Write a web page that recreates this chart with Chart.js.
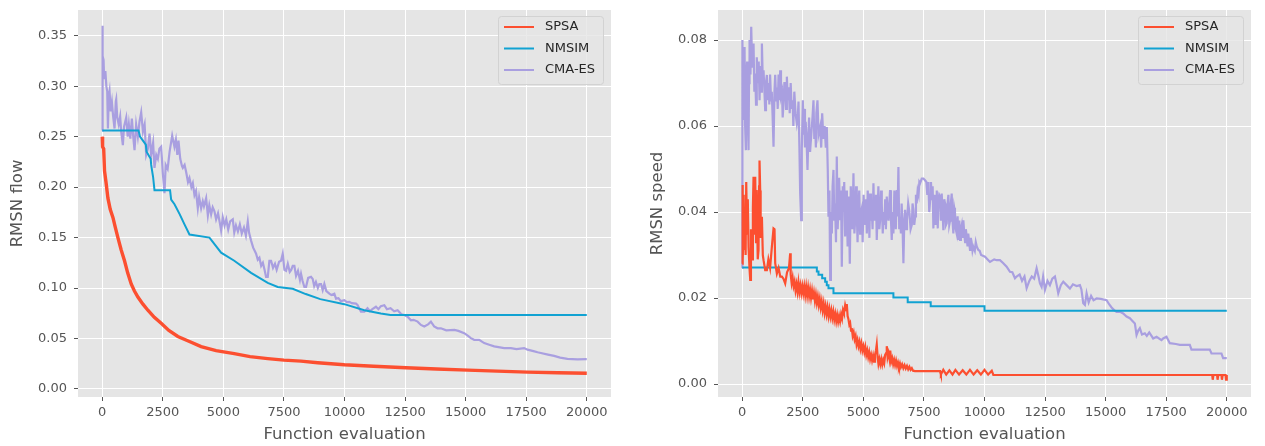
<!DOCTYPE html>
<html>
<head>
<meta charset="utf-8">
<script src="https://cdn.jsdelivr.net/npm/chart.js@4.4.1/dist/chart.umd.min.js"></script>
<style>
html, body { margin: 0; padding: 0; background: #fff; }
#wrap { position: relative; width: 1265px; height: 446px; }
canvas { position: absolute; top: 0; }
</style>
</head>
<body>
<div id="wrap">
  <canvas id="chartFlow" width="633" height="446" style="left:0;width:633px;height:446px"></canvas>
  <canvas id="chartSpeed" width="632" height="446" style="left:633px;width:632px;height:446px"></canvas>
</div>
<script>
const seriesNames = ['SPSA', 'NMSIM', 'CMA-ES'];
const seriesColors = ['#FC4F30', '#11A2D2', '#A99FE0'];

const xTicks = [0, 2500, 5000, 7500, 10000, 12500, 15000, 17500, 20000];
const xTickLabels = ['0', '2500', '5000', '7500', '10000', '12500', '15000', '17500', '20000'];
const flowTicks = [0, 0.05, 0.10, 0.15, 0.20, 0.25, 0.30, 0.35];
const flowTickLabels = ['0.00', '0.05', '0.10', '0.15', '0.20', '0.25', '0.30', '0.35'];
const speedTicks = [0, 0.02, 0.04, 0.06, 0.08];
const speedTickLabels = ['0.00', '0.02', '0.04', '0.06', '0.08'];

// RMSN flow, [evaluation, value]
const spsaFlow = [[0,0.250],[0,0.246],[30,0.240],[60,0.238],[95,0.216],[160,0.204],[235,0.189],[330,0.178],[441,0.170],[540,0.160],[647,0.150],[780,0.138],[920,0.127],[1050,0.115],[1196,0.104],[1330,0.097],[1472,0.091],[1680,0.084],[1884,0.078],[2150,0.071],[2433,0.065],[2750,0.058],[3121,0.052],[3600,0.047],[4082,0.042],[4700,0.038],[5450,0.035],[6100,0.032],[6832,0.030],[7500,0.0285],[8206,0.0275],[8894,0.026],[9993,0.024],[11200,0.0225],[12536,0.021],[13800,0.0198],[15080,0.0186],[16300,0.0176],[17553,0.0167],[18800,0.016],[20000,0.0155]];

const nmsimFlow = [[0,0.256],[1500,0.256],[1560,0.250],[1800,0.242],[1830,0.235],[2000,0.228],[2020,0.222],[2100,0.210],[2157,0.197],[2800,0.197],[2845,0.1876],[2983,0.183],[3200,0.173],[3395,0.163],[3601,0.153],[4426,0.150],[4907,0.135],[5450,0.127],[6144,0.115],[6832,0.105],[7244,0.101],[7863,0.0993],[8400,0.094],[9000,0.089],[9993,0.084],[10818,0.078],[11500,0.0748],[11900,0.0732],[20000,0.0732]];

const cmaFlow = [[0,0.256],[0,0.36],[30,0.33],[55,0.326],[75,0.31],[95,0.307],[130,0.315],[170,0.30],[206,0.295],[235,0.258],[270,0.29],[302,0.295],[350,0.275],[400,0.284],[450,0.27],[509,0.258],[560,0.285],[577,0.287],[619,0.269],[680,0.262],[740,0.27],[783,0.255],[852,0.2415],[900,0.26],[990,0.269],[1050,0.25],[1100,0.262],[1160,0.248],[1223,0.268],[1280,0.25],[1333,0.2366],[1400,0.262],[1470,0.25],[1540,0.265],[1608,0.274],[1680,0.255],[1750,0.262],[1814,0.232],[1884,0.238],[1952,0.253],[2020,0.232],[2100,0.244],[2157,0.219],[2230,0.232],[2296,0.228],[2360,0.238],[2433,0.240],[2500,0.214],[2543,0.202],[2570,0.194],[2620,0.222],[2700,0.218],[2780,0.235],[2887,0.251],[2914,0.251],[2980,0.24],[3040,0.247],[3100,0.232],[3147,0.246],[3220,0.228],[3290,0.221],[3326,0.219],[3400,0.222],[3464,0.215],[3540,0.205],[3600,0.209],[3680,0.2],[3739,0.204],[3808,0.192],[3870,0.196],[3945,0.179],[4000,0.19],[4082,0.179],[4150,0.186],[4200,0.181],[4289,0.189],[4360,0.172],[4420,0.182],[4495,0.173],[4560,0.18],[4632,0.176],[4700,0.168],[4780,0.174],[4850,0.165],[4907,0.157],[4976,0.170],[5050,0.162],[5120,0.168],[5200,0.158],[5280,0.166],[5389,0.168],[5450,0.155],[5520,0.162],[5600,0.156],[5680,0.163],[5760,0.154],[5850,0.16],[5930,0.152],[6008,0.166],[6060,0.155],[6144,0.147],[6230,0.14],[6351,0.134],[6420,0.128],[6488,0.130],[6560,0.122],[6630,0.125],[6700,0.118],[6763,0.111],[6832,0.111],[6900,0.127],[6969,0.127],[7050,0.12],[7130,0.124],[7200,0.118],[7300,0.126],[7380,0.127],[7451,0.134],[7520,0.118],[7588,0.117],[7660,0.124],[7740,0.116],[7800,0.118],[7863,0.122],[7931,0.122],[8000,0.112],[8080,0.117],[8160,0.108],[8206,0.114],[8270,0.107],[8344,0.101],[8412,0.101],[8500,0.11],[8619,0.111],[8688,0.109],[8750,0.102],[8820,0.106],[8900,0.100],[8963,0.104],[9031,0.104],[9100,0.098],[9168,0.104],[9250,0.097],[9374,0.0944],[9460,0.093],[9581,0.0944],[9649,0.0895],[9750,0.09],[9850,0.087],[9993,0.0879],[10100,0.086],[10199,0.0863],[10300,0.085],[10474,0.0846],[10543,0.083],[10680,0.0765],[10818,0.0765],[10950,0.08],[11050,0.077],[11150,0.079],[11299,0.0814],[11400,0.079],[11500,0.082],[11643,0.083],[11750,0.079],[11900,0.080],[12050,0.077],[12192,0.078],[12350,0.074],[12467,0.0732],[12605,0.0716],[12742,0.068],[12850,0.0685],[13018,0.0667],[13155,0.0634],[13292,0.0618],[13450,0.064],[13567,0.0667],[13700,0.062],[13842,0.0601],[13979,0.0601],[14200,0.058],[14536,0.0585],[14700,0.0575],[14942,0.0552],[15100,0.0525],[15216,0.0503],[15354,0.0487],[15560,0.0487],[15767,0.0454],[15972,0.0438],[16179,0.0422],[16591,0.0405],[16866,0.0405],[17100,0.0395],[17416,0.0405],[17553,0.0389],[17800,0.0375],[17967,0.0363],[18103,0.0356],[18400,0.034],[18652,0.0327],[18900,0.031],[19203,0.0297],[19615,0.0293],[20000,0.0295]];

// RMSN speed, [evaluation, value]
const spsaSpeed = [[0,0.028],[10,0.0463],[25,0.029],[40,0.032],[60,0.044],[82,0.0312],[124,0.0412],[140,0.03],[165,0.047],[200,0.035],[230,0.043],[261,0.0319],[300,0.027],[330,0.0242],[360,0.036],[380,0.03],[420,0.029],[440,0.041],[467,0.0482],[500,0.035],[520,0.043],[536,0.0482],[570,0.033],[590,0.04],[605,0.0451],[640,0.029],[673,0.0312],[695,0.046],[714,0.052],[742,0.045],[760,0.034],[780,0.038],[812,0.0389],[850,0.03],[880,0.0288],[948,0.0265],[1017,0.0265],[1080,0.029],[1150,0.027],[1223,0.0319],[1292,0.0362],[1333,0.036],[1361,0.0281],[1430,0.0257],[1500,0.027],[1570,0.025],[1637,0.025],[1700,0.0245],[1773,0.0234],[1850,0.026],[1930,0.027],[1979,0.0304],[2000,0.0255],[2040,0.0235],[2080,0.0248],[2120,0.0228],[2160,0.0238],[2200,0.0218],[2240,0.0232],[2280,0.0215],[2320,0.0236],[2360,0.0214],[2400,0.0229],[2440,0.0212],[2480,0.0228],[2520,0.0211],[2560,0.0227],[2600,0.0207],[2640,0.0226],[2680,0.0206],[2720,0.0224],[2760,0.0204],[2800,0.022],[2840,0.0201],[2880,0.0217],[2920,0.0197],[2960,0.0212],[3000,0.0193],[3040,0.0208],[3080,0.0189],[3120,0.0203],[3160,0.0184],[3200,0.0198],[3240,0.0178],[3280,0.0192],[3320,0.0172],[3360,0.0187],[3400,0.0166],[3440,0.0181],[3480,0.0163],[3520,0.0178],[3560,0.0159],[3600,0.0174],[3640,0.0157],[3680,0.0171],[3720,0.0154],[3760,0.0168],[3800,0.0150],[3840,0.0163],[3880,0.0146],[3920,0.0160],[3960,0.0145],[4000,0.0158],[4040,0.0146],[4080,0.0162],[4120,0.0152],[4160,0.0172],[4200,0.0165],[4247,0.0183],[4290,0.0172],[4316,0.0186],[4350,0.0158],[4380,0.0152],[4420,0.0138],[4454,0.0142],[4490,0.0124],[4522,0.0130],[4560,0.0112],[4600,0.0120],[4640,0.0104],[4680,0.0112],[4720,0.0092],[4760,0.0102],[4800,0.0088],[4840,0.0098],[4880,0.0082],[4920,0.0094],[4960,0.0078],[5000,0.0088],[5040,0.0074],[5080,0.0086],[5120,0.0068],[5160,0.0078],[5200,0.0063],[5240,0.0074],[5280,0.0058],[5320,0.0068],[5360,0.0055],[5400,0.0066],[5440,0.0052],[5480,0.0068],[5520,0.0078],[5553,0.0092],[5590,0.0062],[5622,0.0047],[5660,0.0058],[5700,0.0046],[5740,0.0058],[5780,0.0045],[5820,0.0056],[5860,0.0048],[5900,0.0068],[5940,0.0072],[5966,0.0088],[6000,0.0062],[6040,0.0072],[6080,0.0058],[6110,0.0078],[6150,0.0052],[6190,0.0060],[6230,0.0046],[6270,0.0056],[6310,0.0044],[6350,0.0054],[6390,0.0042],[6430,0.0050],[6470,0.0040],[6510,0.0048],[6550,0.0039],[6600,0.0046],[6650,0.0037],[6700,0.0044],[6750,0.0036],[6800,0.0042],[6850,0.0034],[6900,0.0040],[6950,0.0033],[7000,0.0037],[7050,0.0031],[7134,0.003],[8165,0.003],[8200,0.0022],[8300,0.0033],[8420,0.0022],[8550,0.0032],[8680,0.0022],[8800,0.0033],[8950,0.0022],[9100,0.0032],[9250,0.0022],[9400,0.0033],[9550,0.0022],[9700,0.0032],[9850,0.0022],[10000,0.0033],[10150,0.0022],[10300,0.0031],[10365,0.0021],[19400,0.0021],[19420,0.0010],[19450,0.0021],[19600,0.0021],[19620,0.0010],[19650,0.0021],[19780,0.0021],[19800,0.0010],[19830,0.0021],[19950,0.0021],[19970,0.0010],[20000,0.0021]];

const nmsimSpeed = [[0,0.0271],[3010,0.0271],[3080,0.0262],[3148,0.0254],[3300,0.0246],[3423,0.0238],[3490,0.023],[3560,0.0223],[3766,0.0211],[6240,0.0201],[6830,0.0190],[7780,0.0181],[10000,0.01705],[20000,0.01705]];

const cmaSpeed = [[0,0.027],[0,0.0513],[14,0.080],[35,0.065],[55,0.0614],[75,0.077],[96,0.0784],[120,0.06],[151,0.0544],[175,0.072],[200,0.075],[230,0.062],[261,0.0544],[280,0.07],[302,0.080],[340,0.072],[371,0.0831],[412,0.0738],[440,0.076],[467,0.0792],[500,0.068],[536,0.0722],[570,0.065],[600,0.076],[650,0.07],[680,0.075],[715,0.066],[735,0.072],[760,0.074],[790,0.068],[812,0.0792],[850,0.07],[880,0.073],[910,0.069],[948,0.0637],[980,0.07],[1017,0.0719],[1050,0.066],[1090,0.07],[1120,0.065],[1150,0.072],[1190,0.066],[1220,0.068],[1250,0.063],[1292,0.0552],[1330,0.068],[1361,0.0719],[1400,0.066],[1430,0.069],[1465,0.064],[1500,0.072],[1535,0.066],[1567,0.073],[1600,0.067],[1640,0.068],[1670,0.062],[1704,0.0653],[1740,0.07],[1780,0.07],[1810,0.064],[1842,0.0715],[1880,0.066],[1920,0.069],[1960,0.063],[2000,0.07],[2040,0.064],[2080,0.066],[2110,0.06],[2150,0.068],[2200,0.063],[2254,0.0606],[2290,0.062],[2323,0.0657],[2360,0.055],[2392,0.0443],[2433,0.0381],[2460,0.055],[2502,0.066],[2530,0.058],[2560,0.064],[2590,0.055],[2620,0.061],[2660,0.056],[2694,0.0498],[2730,0.058],[2760,0.062],[2800,0.054],[2850,0.058],[2900,0.062],[2941,0.066],[2975,0.057],[3010,0.06],[3040,0.055],[3060,0.063],[3106,0.066],[3150,0.058],[3216,0.0598],[3260,0.055],[3300,0.063],[3350,0.057],[3400,0.06],[3450,0.055],[3491,0.0598],[3530,0.05],[3560,0.0389],[3600,0.045],[3629,0.0242],[3660,0.04],[3700,0.035],[3730,0.046],[3766,0.0498],[3800,0.038],[3830,0.042],[3870,0.033],[3903,0.0529],[3940,0.036],[3970,0.041],[4000,0.048],[4041,0.0381],[4080,0.045],[4110,0.0273],[4150,0.046],[4180,0.04],[4210,0.047],[4247,0.0343],[4290,0.045],[4320,0.041],[4350,0.032],[4385,0.0436],[4410,0.038],[4440,0.028],[4480,0.046],[4510,0.042],[4550,0.036],[4591,0.049],[4630,0.035],[4660,0.038],[4700,0.046],[4729,0.0397],[4760,0.033],[4800,0.042],[4830,0.045],[4866,0.035],[4900,0.04],[4940,0.041],[4970,0.033],[5010,0.044],[5040,0.039],[5080,0.037],[5110,0.043],[5143,0.035],[5180,0.045],[5220,0.04],[5250,0.034],[5278,0.0443],[5310,0.038],[5350,0.04],[5380,0.036],[5416,0.0467],[5450,0.038],[5490,0.04],[5520,0.044],[5553,0.0335],[5590,0.04],[5620,0.046],[5660,0.036],[5691,0.0381],[5730,0.045],[5760,0.042],[5800,0.035],[5830,0.04],[5870,0.037],[5900,0.043],[5930,0.036],[5966,0.0436],[6000,0.04],[6040,0.038],[6070,0.042],[6103,0.0451],[6140,0.038],[6172,0.0335],[6200,0.04],[6240,0.035],[6280,0.045],[6310,0.042],[6340,0.036],[6378,0.0451],[6410,0.039],[6447,0.0505],[6480,0.036],[6515,0.0389],[6550,0.035],[6580,0.042],[6620,0.036],[6653,0.0281],[6690,0.038],[6722,0.0405],[6760,0.036],[6800,0.038],[6850,0.042],[6900,0.04],[6950,0.036],[7000,0.037],[7030,0.042],[7065,0.0405],[7100,0.037],[7140,0.039],[7170,0.044],[7200,0.042],[7240,0.045],[7280,0.044],[7310,0.047],[7340,0.0467],[7410,0.0478],[7478,0.0478],[7546,0.0474],[7600,0.047],[7640,0.044],[7684,0.047],[7720,0.04],[7760,0.043],[7790,0.047],[7821,0.0436],[7860,0.046],[7890,0.0362],[7920,0.042],[7950,0.044],[7980,0.037],[8000,0.039],[8030,0.045],[8070,0.0362],[8100,0.043],[8130,0.044],[8165,0.0436],[8200,0.038],[8234,0.0443],[8270,0.04],[8302,0.0358],[8340,0.043],[8370,0.042],[8410,0.037],[8440,0.0374],[8475,0.042],[8510,0.044],[8545,0.037],[8580,0.038],[8610,0.042],[8646,0.0443],[8680,0.038],[8715,0.035],[8750,0.041],[8780,0.04],[8815,0.036],[8852,0.035],[8890,0.039],[8921,0.0335],[8960,0.038],[8990,0.0335],[9025,0.036],[9060,0.037],[9095,0.034],[9127,0.0381],[9165,0.035],[9200,0.033],[9230,0.036],[9265,0.0343],[9300,0.032],[9330,0.035],[9365,0.033],[9402,0.0312],[9435,0.034],[9470,0.033],[9505,0.031],[9540,0.0319],[9600,0.031],[9640,0.033],[9680,0.032],[9745,0.0312],[9800,0.031],[9860,0.030],[10021,0.0296],[10158,0.0288],[10227,0.0284],[10400,0.029],[10502,0.0288],[10639,0.0288],[10777,0.0281],[10914,0.0273],[11052,0.0261],[11150,0.026],[11258,0.0246],[11326,0.025],[11450,0.0255],[11550,0.024],[11650,0.025],[11739,0.0223],[11850,0.024],[11950,0.025],[12050,0.0245],[12151,0.0269],[12230,0.025],[12289,0.0234],[12357,0.0226],[12420,0.025],[12495,0.0219],[12600,0.024],[12700,0.023],[12800,0.0245],[12907,0.025],[12980,0.023],[13044,0.0211],[13150,0.023],[13251,0.0238],[13389,0.023],[13526,0.0222],[13650,0.0232],[13801,0.0228],[13938,0.023],[14000,0.022],[14076,0.0188],[14144,0.0184],[14214,0.0211],[14300,0.019],[14400,0.0205],[14500,0.0195],[14627,0.0199],[14800,0.0198],[15039,0.0195],[15150,0.0185],[15245,0.0178],[15350,0.0172],[15451,0.0168],[15600,0.0168],[15725,0.0164],[15863,0.0157],[16000,0.0153],[16069,0.0149],[16206,0.0141],[16276,0.0114],[16350,0.0125],[16412,0.013],[16500,0.0115],[16619,0.0118],[16700,0.0112],[16800,0.012],[16962,0.0106],[17101,0.011],[17305,0.0102],[17374,0.0106],[17512,0.011],[17649,0.0095],[17900,0.0093],[18062,0.0091],[18474,0.0091],[18543,0.008],[19299,0.008],[19370,0.0071],[19781,0.0071],[19848,0.006],[20000,0.006]];

const fontFamily = '"DejaVu Sans", sans-serif';

const plotBackground = {
    id: 'plotBackground',
    beforeDraw(chart) {
        const { ctx, chartArea: a } = chart;
        ctx.save();
        ctx.fillStyle = '#E5E5E5';
        ctx.fillRect(a.left, a.top, a.right - a.left, a.bottom - a.top);
        ctx.restore();
    }
};

// legend box drawn inside the plot, upper right, like matplotlib
const insideLegend = {
    id: 'insideLegend',
    afterDraw(chart) {
        const { ctx, chartArea: a } = chart;
        const w = 105, h = 68;
        const x = a.right - 8 - w, y = a.top + 6;
        ctx.save();
        ctx.beginPath();
        ctx.roundRect(x + 0.5, y + 0.5, w, h, 3);
        ctx.fillStyle = 'rgba(229,229,229,0.8)';
        ctx.fill();
        ctx.strokeStyle = '#D2D2D2';
        ctx.lineWidth = 1;
        ctx.stroke();
        ctx.font = '13px ' + fontFamily;
        ctx.textBaseline = 'middle';
        chart.data.datasets.forEach((ds, i) => {
            const ry = y + 11 + i * 21.5;
            ctx.strokeStyle = ds.borderColor;
            ctx.lineWidth = 2;
            ctx.beginPath();
            ctx.moveTo(x + 6, ry);
            ctx.lineTo(x + 36, ry);
            ctx.stroke();
            ctx.fillStyle = '#262626';
            ctx.fillText(ds.label, x + 47, ry);
        });
        ctx.restore();
    }
};

const toPoints = arr => arr.map(p => ({ x: p[0], y: p[1] }));

const makeDatasets = (series, widths, stepped) => series.map((s, i) => ({
    label: seriesNames[i],
    data: toPoints(s),
    borderColor: seriesColors[i],
    backgroundColor: seriesColors[i],
    borderWidth: widths[i],
    stepped: stepped[i],
    pointRadius: 0,
    tension: 0,
    fill: false
}));

// no extra padding from the tick labels, the plot box is set by hand
const noScalePadding = scale => {
    scale.paddingTop = 0;
    scale.paddingBottom = 0;
    scale.paddingLeft = 0;
    scale.paddingRight = 0;
};

const makeChart = (id, datasets, opts) => {
    const ctx = document.getElementById(id).getContext('2d');
    return new Chart(ctx, {
        type: 'line',
        data: { datasets: datasets },
        plugins: [plotBackground, insideLegend],
        options: {
            responsive: false,
            animation: false,
            devicePixelRatio: 1,
            layout: { padding: { left: 0, right: opts.padRight, top: 10, bottom: 0 } },
            plugins: { legend: { display: false }, tooltip: { enabled: false } },
            scales: {
                x: {
                    type: 'linear',
                    min: -1000,
                    max: 21000,
                    afterBuildTicks: scale => { scale.ticks = xTicks.map(v => ({ value: v })); },
                    afterFit: scale => { scale.height = 49; noScalePadding(scale); },
                    grid: { color: '#FFFFFF', lineWidth: 1, tickColor: '#555555', tickLength: 4, tickWidth: 1 },
                    border: { display: false },
                    ticks: {
                        autoSkip: false, maxRotation: 0, padding: 4,
                        color: '#555555', font: { family: fontFamily, size: 13 },
                        callback: (v, i) => xTickLabels[i]
                    },
                    title: {
                        display: true, text: 'Function evaluation', color: '#555555',
                        font: { family: fontFamily, size: 16.5 }, padding: { top: 0, bottom: 1 }
                    }
                },
                y: {
                    type: 'linear',
                    min: opts.yMin,
                    max: opts.yMax,
                    afterBuildTicks: scale => { scale.ticks = opts.yTicks.map(v => ({ value: v })); },
                    afterFit: scale => { scale.width = opts.yWidth; noScalePadding(scale); },
                    grid: { color: '#FFFFFF', lineWidth: 1, tickColor: '#555555', tickLength: 4, tickWidth: 1 },
                    border: { display: false },
                    ticks: {
                        autoSkip: false, padding: 7,
                        color: '#555555', font: { family: fontFamily, size: 13 },
                        callback: (v, i) => opts.yTickLabels[i]
                    },
                    title: {
                        display: true, text: opts.yTitle, color: '#555555',
                        font: { family: fontFamily, size: 16.5 }, padding: { top: opts.yTitlePad, bottom: 0 }
                    }
                }
            }
        }
    });
};

makeChart('chartFlow', makeDatasets([spsaFlow, nmsimFlow, cmaFlow], [3.4, 2, 2.2], [false, false, false]), {
    padRight: 22, yWidth: 78, yMin: -0.008, yMax: 0.3755,
    yTicks: flowTicks, yTickLabels: flowTickLabels, yTitle: 'RMSN flow', yTitlePad: 8
});

makeChart('chartSpeed', makeDatasets([spsaSpeed, nmsimSpeed, cmaSpeed], [2.2, 2, 2.2], [false, true, false]), {
    padRight: 14, yWidth: 85, yMin: -0.00302, yMax: 0.087,
    yTicks: speedTicks, yTickLabels: speedTickLabels, yTitle: 'RMSN speed', yTitlePad: 15
});
</script>
</body>
</html>
